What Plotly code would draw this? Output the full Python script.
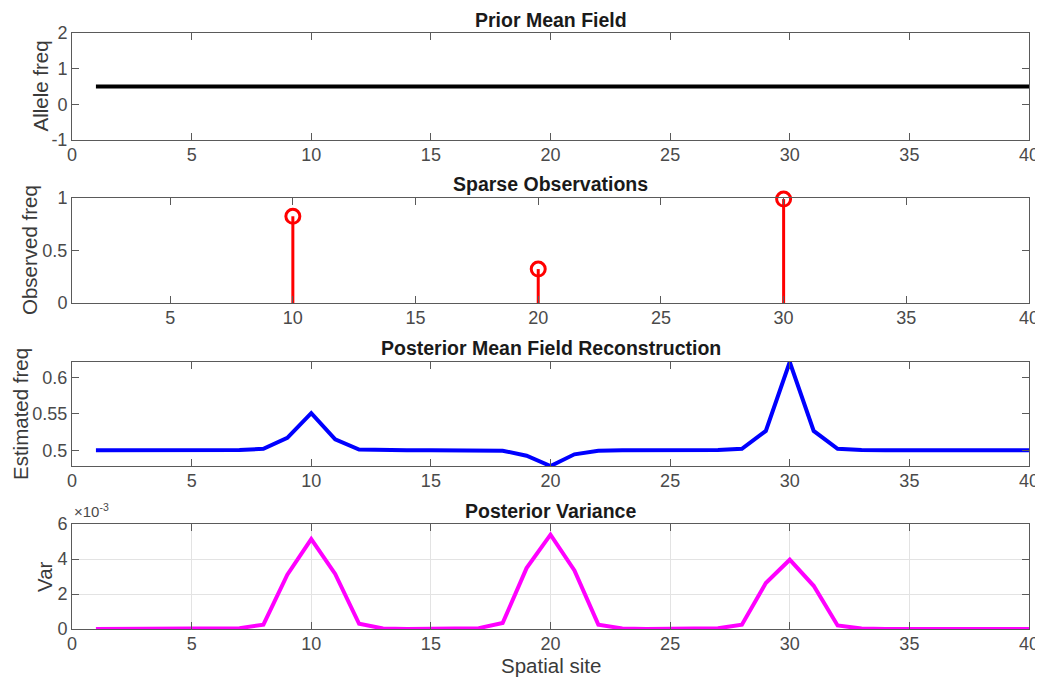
import plotly.graph_objects as go

# ---------------- data ----------------
sites = list(range(1, 41))
prior_mean = [0.5, 0.5, 0.5, 0.5, 0.5, 0.5, 0.5, 0.5, 0.5, 0.5,
              0.5, 0.5, 0.5, 0.5, 0.5, 0.5, 0.5, 0.5, 0.5, 0.5,
              0.5, 0.5, 0.5, 0.5, 0.5, 0.5, 0.5, 0.5, 0.5, 0.5,
              0.5, 0.5, 0.5, 0.5, 0.5, 0.5, 0.5, 0.5, 0.5, 0.5]
obs_sites = [10, 20, 30]
obs_vals = [0.826, 0.323, 0.99]
post_mean = [0.5, 0.5, 0.5, 0.5, 0.5, 0.5, 0.5004, 0.502, 0.517, 0.551,
             0.515, 0.501, 0.5002, 0.5, 0.5, 0.5, 0.5, 0.4995, 0.4925, 0.4785,
             0.4945, 0.4993, 0.5, 0.5, 0.5, 0.5, 0.5003, 0.502, 0.5265, 0.621,
             0.5265, 0.502, 0.5003, 0.5, 0.5, 0.5, 0.5, 0.5, 0.5, 0.5]
post_var = [0, 0, 0, 0, 0, 0, 0.00005, 0.00025, 0.0031, 0.00514,
            0.00315, 0.0003, 0.00003, 0, 0, 0, 0.00005, 0.00034, 0.00348, 0.00539,
            0.00335, 0.00025, 0.00003, 0, 0, 0, 0.00004, 0.00025, 0.00263, 0.00396,
            0.00247, 0.0002, 0.00003, 0, 0, 0, 0, 0, 0, 0]

titles = ["Prior Mean Field", "Sparse Observations",
          "Posterior Mean Field Reconstruction", "Posterior Variance"]
ylabels = ["Allele freq", "Observed freq", "Estimated freq", "Var"]
xlabel = "Spatial site"
xticks = [0, 5, 10, 15, 20, 25, 30, 35, 40]
var_ticks = [0, 0.002, 0.004, 0.006]
var_ticktext = ["0", "2", "4", "6"]

# ---------------- layout geometry (window pixels) ----------------
OFF = 8                      # page body margin
W, H = 1043 - OFF, 678 - OFF
left, right = 72, 1029
panels = [(33, 140), (198, 303), (362, 466), (524, 629)]


def px(x):
    return (x - OFF) / W


def py(y):
    return 1 - (y - OFF) / H


FONT = "Liberation Sans, Arial, sans-serif"
AXC = "#5a5a5a"
TICKC = "#4a4a4a"

fig = go.Figure()

# panel 1 - prior mean
fig.add_trace(go.Scatter(x=sites, y=prior_mean, mode="lines",
                         line=dict(color="black", width=4),
                         xaxis="x", yaxis="y", showlegend=False))

# panel 2 - stems
stem_x, stem_y = [], []
for s, v in zip(obs_sites, obs_vals):
    stem_x += [s, s, None]
    stem_y += [0, v, None]
fig.add_trace(go.Scatter(x=stem_x, y=stem_y, mode="lines",
                         line=dict(color="red", width=3),
                         xaxis="x2", yaxis="y2", showlegend=False))
fig.add_trace(go.Scatter(x=obs_sites, y=obs_vals, mode="markers",
                         marker=dict(symbol="circle-open", color="red", size=14,
                                     line=dict(color="red", width=3)),
                         xaxis="x2", yaxis="y2", showlegend=False,
                         cliponaxis=False))

# panel 3 - posterior mean
fig.add_trace(go.Scatter(x=sites, y=post_mean, mode="lines",
                         line=dict(color="#0000ff", width=4),
                         xaxis="x3", yaxis="y3", showlegend=False,
                         cliponaxis=False))

# panel 4 - posterior variance
fig.add_trace(go.Scatter(x=sites, y=post_var, mode="lines",
                         line=dict(color="#ff00ff", width=4),
                         xaxis="x4", yaxis="y4", showlegend=False,
                         cliponaxis=False))

common = dict(showline=True, linecolor=AXC, linewidth=1, mirror="ticks",
              ticks="inside", ticklen=7, tickcolor=AXC, tickwidth=1,
              zeroline=False, showgrid=False, automargin=False,
              ticklabeloverflow="allow",
              tickfont=dict(family=FONT, size=18, color=TICKC))

xdom = [px(left), px(right)]
layout = dict(width=W, height=H, margin=dict(l=0, r=0, t=0, b=0),
              paper_bgcolor="white", plot_bgcolor="white",
              template="none", showlegend=False)

xranges = [[0, 40], [1, 40], [0, 40], [0, 40]]
yranges = [[-1, 2], [0, 1], [min(post_mean), max(post_mean)], [0, 0.006]]
ytickvals = [[-1, 0, 1, 2], [0, 0.5, 1], [0.5, 0.55, 0.6], var_ticks]
yticktext = [["-1", "0", "1", "2"], ["0", "0.5", "1"], ["0.5", "0.55", "0.6"], var_ticktext]

for i in range(4):
    sx = "" if i == 0 else str(i + 1)
    top, bot = panels[i]
    grid = (i == 3)
    layout["xaxis" + sx] = dict(common, domain=xdom, anchor="y" + sx, range=xranges[i],
                                tickvals=xticks, ticktext=[str(t) for t in xticks],
                                ticklabelstandoff=-2,
                                showgrid=grid, gridcolor="#e3e3e3", gridwidth=1)
    layout["yaxis" + sx] = dict(common, domain=[py(bot), py(top)], anchor="x" + sx,
                                range=yranges[i], tickvals=ytickvals[i],
                                ticktext=yticktext[i],
                                showgrid=grid, gridcolor="#e3e3e3", gridwidth=1)

annotations = []
title_y = [20, 184, 348, 511]
for i, t in enumerate(titles):
    annotations.append(dict(text="<b>" + t + "</b>", x=px((left + right) / 2),
                            y=py(title_y[i]), xref="paper", yref="paper",
                            showarrow=False, xanchor="center", yanchor="middle",
                            font=dict(family=FONT, size=19.5, color="#1a1a1a")))
ylab_x = [40, 29.5, 20, 44.5]
for i, t in enumerate(ylabels):
    top, bot = panels[i]
    annotations.append(dict(text=t, x=px(ylab_x[i]), y=py((top + bot) / 2),
                            xref="paper", yref="paper", showarrow=False,
                            textangle=-90, xanchor="center", yanchor="middle",
                            font=dict(family=FONT, size=20.5, color="#3a3a3a")))
annotations.append(dict(text=xlabel, x=px((left + right) / 2), y=py(665),
                        xref="paper", yref="paper", showarrow=False,
                        xanchor="center", yanchor="middle",
                        font=dict(family=FONT, size=20.5, color="#3a3a3a")))
annotations.append(dict(text="×10<sup>-3</sup>", x=px(72), y=py(510),
                        xref="paper", yref="paper", showarrow=False,
                        xanchor="left", yanchor="middle",
                        font=dict(family=FONT, size=15, color=TICKC)))
layout["annotations"] = annotations

fig.update_layout(**layout)
fig.write_html("out.html")
